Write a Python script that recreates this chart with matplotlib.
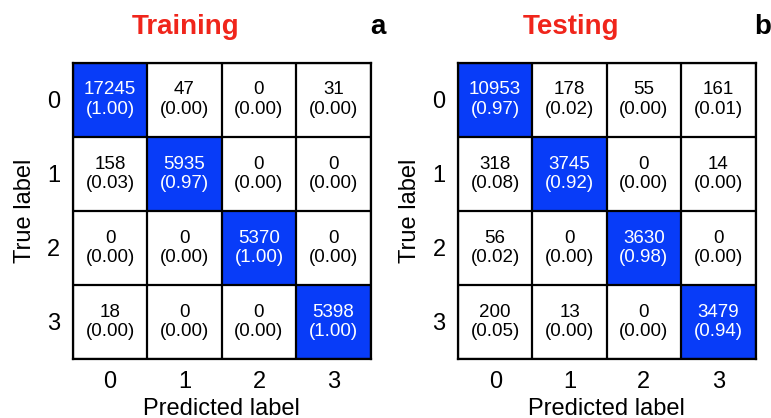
import numpy as np
import matplotlib
matplotlib.use("Agg")
import matplotlib.pyplot as plt
from matplotlib.colors import ListedColormap, BoundaryNorm

plt.rcParams['font.family'] = ['Liberation Sans', 'DejaVu Sans']

classes = ["0", "1", "2", "3"]

train_counts = [
    [17245, 47, 0, 31],
    [158, 5935, 0, 0],
    [0, 0, 5370, 0],
    [18, 0, 0, 5398],
]
test_counts = [
    [10953, 178, 55, 161],
    [318, 3745, 0, 14],
    [56, 0, 3630, 0],
    [200, 13, 0, 3479],
]

titles = ["Training", "Testing"]
panel_tags = ["a", "b"]

BLUE = "#083cf8"
cmap = ListedColormap(["white", BLUE])
norm = BoundaryNorm([0, 0.5, 1.0], 2)

fig = plt.figure(figsize=(7.71, 4.18), dpi=100)
positions = [
    [73 / 771, 1 - 359 / 418, 297.5 / 771, 296.5 / 418],
    [458 / 771, 1 - 359 / 418, 297.5 / 771, 296.5 / 418],
]

for idx, (counts, title, tag) in enumerate(zip([train_counts, test_counts], titles, panel_tags)):
    cm = np.array(counts, dtype=float)
    frac = cm / cm.sum(axis=1, keepdims=True)
    ax = fig.add_axes(positions[idx])
    ax.imshow(frac, cmap=cmap, norm=norm, aspect="auto")
    n = len(classes)
    for i in range(n):
        for j in range(n):
            color = "white" if frac[i, j] > 0.5 else "black"
            ax.text(j, i, f"{int(cm[i, j])}\n({frac[i, j]:.2f})", ha="center", va="center",
                    fontsize=13.5, color=color, linespacing=1.17)
    # cell borders
    for k in range(n + 1):
        ax.axhline(k - 0.5, color="black", lw=1.6)
        ax.axvline(k - 0.5, color="black", lw=1.6)
    ax.set_xlim(-0.5, n - 0.5)
    ax.set_ylim(n - 0.5, -0.5)
    ax.set_xticks(range(n))
    ax.set_yticks(range(n))
    ax.set_xticklabels(classes, fontsize=17)
    ax.set_yticklabels(classes, fontsize=17)
    ax.tick_params(length=0, pad=9)
    for s in ax.spines.values():
        s.set_linewidth(1.6)
    ax.set_xlabel("Predicted label", fontsize=17, labelpad=3)
    ax.set_ylabel("True label", fontsize=17, labelpad=8)
    ax.text(0.38, 1 + (62 - 27) / 296.5, title, transform=ax.transAxes, fontsize=20,
            fontweight="bold", color="#f0251b", ha="center", va="center")
    ax.text(1.025, 1 + (62 - 27) / 296.5, tag, transform=ax.transAxes, fontsize=20,
            fontweight="bold", ha="center", va="center")

fig.savefig("out.png", dpi=100)
